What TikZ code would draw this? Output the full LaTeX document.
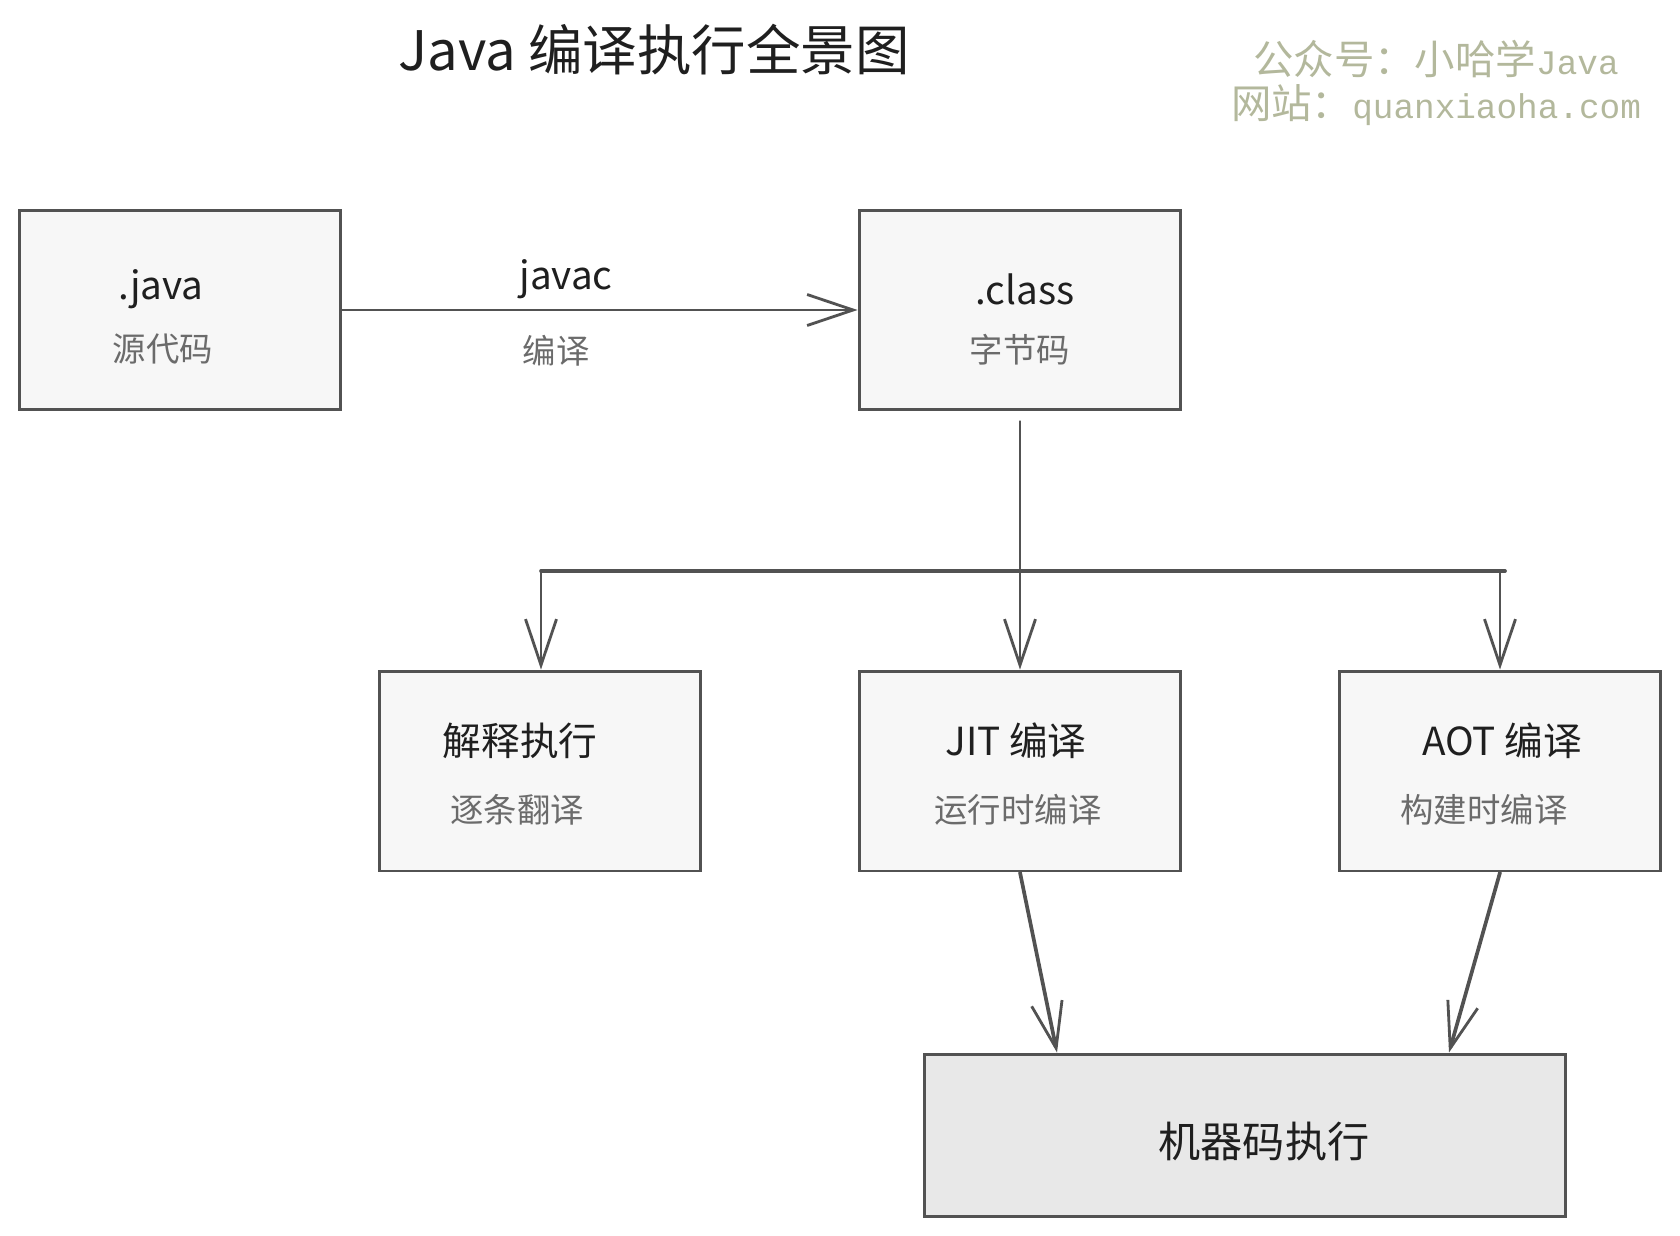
\documentclass[tikz,border=0pt]{standalone}
\usepackage{fontspec}
\setmainfont{Noto Sans CJK SC}
\newfontfamily\cjk{Noto Sans CJK SC}
\newfontfamily\wmmono[Scale=0.85]{Liberation Mono}
\usetikzlibrary{arrows.meta}

\begin{document}
\begin{tikzpicture}
	[x=0.02cm,y=-0.02cm,line cap=round,
	%Styles
	box/.style={draw=linecolor,line width=1.7pt,fill=boxcolor,minimum width=6.44cm,minimum height=4cm,inner sep=0pt},
	result box/.style={box,fill=resultcolor,minimum width=12.84cm,minimum height=3.24cm},
	main text/.style={font=\fontsize{22}{26}\selectfont,text=textcolor},
	sub text/.style={font=\fontsize{19}{23}\selectfont,text=subcolor},
	title text/.style={font=\fontsize{31}{36}\selectfont,text=textcolor},
	mark text/.style={font=\fontsize{23}{27}\selectfont,text=markcolor,align=center},
	flow/.style={draw=linecolor,line width=1.6pt},
	arrow line/.style={flow,-{Straight Barb[length=0.92cm,width=0.62cm,line width=1.6pt]}},
	thick arrow/.style={arrow line,line width=2.1pt}
	]
	
	%Colors
	\colorlet{linecolor}{black!68}
	\colorlet{boxcolor}{black!3}
	\colorlet{resultcolor}{black!9}
	\colorlet{textcolor}{black!88}
	\colorlet{subcolor}{black!58}
	\definecolor{markcolor}{HTML}{B3B89C}
	
	\useasboundingbox (0,0) rectangle (1680,1235);
	
	%Heading
	\node[title text] (title) at (654,50) {Java 编译执行全景图};
	\node[mark text] (mark1) at (1436,59) {{\cjk 公众号：小哈学}{\wmmono Java}};
	\node[mark text] (mark2) at (1436,105) {{\cjk 网站：}{\wmmono quanxiaoha.com}};
	
	%Boxes
	\node[box] (java) at (180,310) {};
	\node[box] (class) at (1020,310) {};
	\node[box] (interp) at (540,771) {};
	\node[box] (jit) at (1020,771) {};
	\node[box] (aot) at (1500,771) {};
	\node[result box] (machine) at (1245,1135) {};
	
	%Labels
	\node[main text] (java-t) at (161,289) {.java};
	\node[sub text] (java-s) at (163,349) {源代码};
	\node[main text] (class-t) at (1025,289) {.class};
	\node[sub text] (class-s) at (1020,350) {字节码};
	\node[main text] (interp-t) at (520,741) {解释执行};
	\node[sub text] (interp-s) at (517,810) {逐条翻译};
	\node[main text] (jit-t) at (1016,741) {JIT 编译};
	\node[sub text] (jit-s) at (1018,810) {运行时编译};
	\node[main text] (aot-t) at (1502,741) {AOT 编译};
	\node[sub text] (aot-s) at (1484,810) {构建时编译};
	\node[main text,font=\fontsize{24}{28}\selectfont] (machine-t) at (1264,1141) {机器码执行};
	\node[main text] (javac) at (566,279) {javac};
	\node[sub text] (compile) at (556,351) {编译};
	
	%Connectors
	\draw[arrow line] (java.east) -- (class.west);
	
	\coordinate (split) at (1020,571);
	\coordinate (bar-l) at (541,571);
	\coordinate (bar-r) at (1505,571);
	\draw[flow] ([yshift=-0.2cm]class.south) -- (split);
	\draw[flow,line width=2.1pt] (bar-l) -- (bar-r);
	\draw[arrow line] (bar-l) -- (bar-l |- interp.north);
	\draw[arrow line] (split) -- (jit.north);
	\draw[arrow line] (1500,571) -- (aot.north);
	
	\draw[thick arrow] (jit.south) -- (1057,0 |- machine.north);
	\draw[thick arrow] (aot.south) -- (1449,0 |- machine.north);
\end{tikzpicture}
\end{document}
